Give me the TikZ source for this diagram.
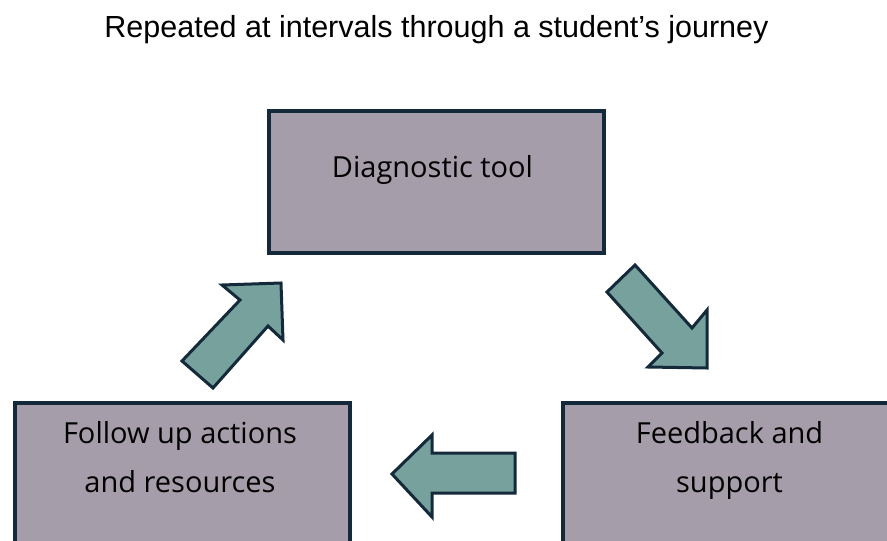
\documentclass[tikz,border=0pt]{standalone}
\usepackage{fontspec}
\setmainfont{Open Sans}
\newfontfamily\titlefont{Liberation Sans}
\definecolor{boxfill}{HTML}{A59DA9}
\definecolor{edge}{HTML}{142A3B}
\definecolor{arrowfill}{HTML}{76A19D}
\begin{document}
\begin{tikzpicture}[x=1pt,y=-1pt,
  stagebox/.style={draw=edge,fill=boxfill,line width=3.5pt,rectangle,inner sep=0pt,
    minimum width=335pt,minimum height=142pt,anchor=north west},
  stagetext/.style={font=\fontsize{29}{49}\selectfont,align=center,anchor=base,inner sep=0pt,text=black},
  flow/.style={draw=edge,fill=arrowfill,line width=3pt,line join=miter}]
  \useasboundingbox (0,0) rectangle (887,541);
  \fill[white] (0,0) rectangle (887,541);

  % heading
  \node[font=\titlefont\fontsize{30.5}{36}\selectfont,anchor=base,inner sep=0pt] (heading) at (436.5,37)
    {Repeated at intervals through a student’s journey};

  % the three stages of the cycle
  \node[stagebox] (diag) at (267,109) {};
  \node[stagebox] (follow) at (13,401) {};
  \node[stagebox] (feed) at (561,401) {};

  % labels (base anchor sits on the last line)
  \node[stagetext] (diagT) at (432.5,177) {Diagnostic tool};
  \node[stagetext] (followT) at (180,492) {Follow up actions\\and resources};
  \node[stagetext] (feedT) at (729.5,492) {Feedback and\\support};

  % block arrows between the stages
  \draw[flow] (607,292) -- (635,265) -- (692,328) -- (707,310) -- (707,368)
     -- (648,367) -- (662,353) -- cycle;
  \draw[flow] (515,453) -- (432,453) -- (432,435) -- (392,474) -- (432,517)
     -- (432,493) -- (515,493) -- cycle;
  \draw[flow] (182,361) -- (240,300) -- (222,285) -- (281,283) -- (283,340)
     -- (268,326) -- (213,388) -- cycle;
\end{tikzpicture}
\end{document}
